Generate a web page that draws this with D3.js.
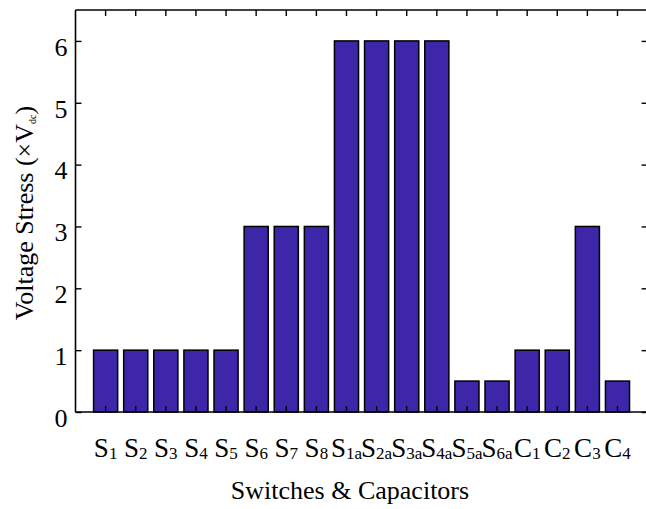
<!DOCTYPE html>
<html>
<head>
<meta charset="utf-8">
<script src="https://cdn.jsdelivr.net/npm/d3@7"></script>
<style>
  html, body { margin: 0; padding: 0; background: #fff; }
  svg { display: block; }
  text { font-family: "Liberation Serif", "Times New Roman", serif; fill: #000; }
</style>
</head>
<body>
<script>
// ---- data ----
const categories = ["S1","S2","S3","S4","S5","S6","S7","S8","S1a","S2a","S3a","S4a","S5a","S6a","C1","C2","C3","C4"];
const values = [1,1,1,1,1,3,3,3,6,6,6,6,0.5,0.5,1,1,3,0.5];
const yTicks = [0,1,2,3,4,5,6];
const xTitle = "Switches & Capacitors";
const yTitleMain = "Voltage Stress (\u00D7V";
const yTitleSub = "dc";

// ---- layout ----
const W = 646, H = 509;
const L = 75.5, R = 647.6, T = 10, B = 412;
const barColor = "#3E26A8";
const tickFont = 26, catFont = 27, subSize = 17, titleFont = 26;

const svg = d3.select("body").append("svg").attr("width", W).attr("height", H);

const x = d3.scaleBand().domain(categories).range([L, R]).paddingInner(0.2).paddingOuter(0.6);
const y = d3.scaleLinear().domain([0, 6.5]).range([B, T]);

// bars
svg.append("g").selectAll("rect").data(categories).join("rect")
  .attr("x", d => x(d))
  .attr("width", x.bandwidth())
  .attr("y", (d, i) => y(values[i]))
  .attr("height", (d, i) => y(0) - y(values[i]))
  .attr("fill", barColor)
  .attr("stroke", "#000")
  .attr("stroke-width", 1.5);

// axes (inward ticks, box)
const tickLen = 6;
const gB = svg.append("g").attr("transform", `translate(0,${B})`)
  .call(d3.axisBottom(x).tickSizeInner(-tickLen).tickSizeOuter(0).tickFormat(""));
const gT = svg.append("g").attr("transform", `translate(0,${T})`)
  .call(d3.axisTop(x).tickSizeInner(-tickLen).tickSizeOuter(0).tickFormat(""));
const gL = svg.append("g").attr("transform", `translate(${L},0)`)
  .call(d3.axisLeft(y).tickValues(yTicks).tickSizeInner(-tickLen).tickSizeOuter(0).tickFormat(d3.format("d")).tickPadding(8));
const gR = svg.append("g").attr("transform", `translate(${R},0)`)
  .call(d3.axisRight(y).tickValues(yTicks).tickSizeInner(-tickLen).tickSizeOuter(0).tickFormat(""));

[gB, gT, gL, gR].forEach(g => {
  g.selectAll("path.domain").attr("stroke", "#000").attr("stroke-width", 1.6);
  g.selectAll(".tick line").attr("stroke", "#000").attr("stroke-width", 1.4);
});
gB.select("path.domain").attr("d", `M${L},0H${R}`);
gT.select("path.domain").attr("d", `M${L},0H${R}`);
gL.select("path.domain").attr("d", `M0,${T}V${B}`);
gR.select("path.domain").attr("d", `M0,${T}V${B}`);

gL.selectAll(".tick text")
  .attr("font-size", tickFont)
  .attr("font-family", "Liberation Serif, Times New Roman, serif")
  .attr("fill", "#000")
  .attr("dy", "0.55em");

// x tick labels with subscripts
const xl = svg.append("g").selectAll("text").data(categories).join("text")
  .attr("x", d => x(d) + x.bandwidth() / 2)
  .attr("y", 457)
  .attr("text-anchor", "middle")
  .attr("font-size", catFont);
xl.append("tspan").text(d => d.charAt(0));
xl.append("tspan").attr("font-size", subSize).attr("dy", 2).text(d => d.slice(1));

// x title
svg.append("text")
  .attr("x", 350)
  .attr("y", 499)
  .attr("text-anchor", "middle")
  .attr("font-size", titleFont)
  .text(xTitle);

// y title
const yt = svg.append("text")
  .attr("transform", `translate(33,${(T + B) / 2 + 2}) rotate(-90)`)
  .attr("text-anchor", "middle")
  .attr("font-size", titleFont);
yt.append("tspan").text(yTitleMain);
yt.append("tspan").attr("font-size", 10).attr("dy", 3).text(yTitleSub);
yt.append("tspan").attr("dy", -3).text(")");
</script>
</body>
</html>
